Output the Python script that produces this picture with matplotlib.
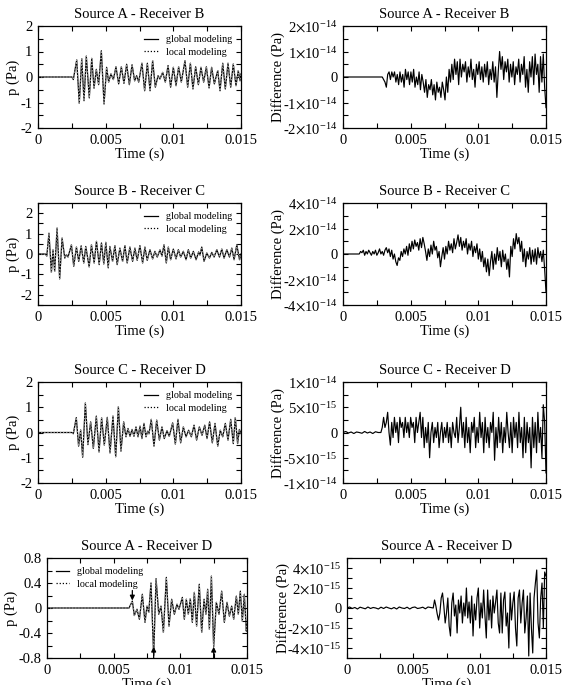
import numpy as np
import matplotlib
matplotlib.use("Agg")
import matplotlib.pyplot as plt

plt.rcParams['font.family'] = ['Liberation Serif', 'DejaVu Serif']
plt.rcParams['mathtext.fontset'] = 'stix'
plt.rcParams['axes.unicode_minus'] = False

# ---------------- data (time in ms, pressure in Pa) ----------------
titles = ["Source A - Receiver B", "Source B - Receiver C",
          "Source C - Receiver D", "Source A - Receiver D"]

# Source A - Receiver B : pressure
t_ab = [0, 2.51, 2.61, 2.86, 3.05, 3.23, 3.40, 3.57, 3.79, 3.97, 4.14, 4.31, 4.48,
        4.68, 4.88, 5.07, 5.22, 5.39, 5.57, 5.76, 5.96, 6.16, 6.35, 6.55, 6.75,
        6.95, 7.14, 7.29, 7.44, 7.68, 7.88, 8.08, 8.28, 8.47, 8.67, 8.87, 9.01,
        9.21, 9.41, 9.61, 9.80, 10.00, 10.20, 10.39, 10.59, 10.86, 11.06, 11.26,
        11.45, 11.65, 11.85, 12.04, 12.24, 12.44, 12.64, 12.83, 13.03, 13.28,
        13.45, 13.65, 13.84, 14.04, 14.24, 14.43, 14.63, 14.80, 14.93, 15.0]
p_ab = [0, 0, -0.10, 0.67, -1.03, 0.72, -0.93, 0.82, -0.82, 0.73, -0.44, 0.30, -0.30,
        1.03, -1.06, 0.38, -0.20, 0.12, -0.10, 0.40, -0.27, 0.40, -0.25, 0.50, -0.30,
        0.48, -0.15, 0.05, -0.20, 0.54, -0.54, 0.54, -0.54, 0.64, -0.40, 0.05, -0.08,
        0.18, -0.20, 0.45, -0.40, 0.38, -0.34, 0.40, -0.20, 0.64, -0.40, 0.54,
        -0.47, 0.40, -0.30, 0.38, -0.20, 0.40, -0.43, 0.38, -0.27, 0.25,
        -0.54, 0.54, -0.47, 0.54, -0.40, 0.51, -0.34, 0.25, -0.15, 0.12]

# Source B - Receiver C : pressure
t_bc = [0, 0.55, 0.65, 0.81, 0.99, 1.11, 1.23, 1.41, 1.60, 1.78, 1.98, 2.10, 2.22,
        2.47, 2.64, 2.84, 3.01, 3.19, 3.38, 3.53, 3.78, 3.95, 4.15, 4.32, 4.52,
        4.69, 4.86, 5.01, 5.19, 5.31, 5.51, 5.68, 5.85, 6.05, 6.25, 6.42, 6.59,
        6.79, 6.99, 7.16, 7.33, 7.53, 7.73, 7.90, 8.07, 8.27, 8.47, 8.64, 8.81,
        9.01, 9.16, 9.31, 9.48, 9.63, 9.80, 10.00, 10.20, 10.37, 10.54, 10.74,
        10.94, 11.11, 11.28, 11.48, 11.68, 11.87, 11.97, 12.10, 12.27, 12.47,
        12.67, 12.84, 13.01, 13.21, 13.41, 13.58, 13.75, 13.95, 14.15, 14.32,
        14.49, 14.69, 14.89, 15.0]
p_bc = [0, 0, -0.10, 1.02, -0.90, 0.20, -0.85, 1.27, -1.22, 0.78, -0.20, -0.03, -0.15,
        0.45, -0.60, 0.34, -0.36, 0.40, -0.44, 0.37, -0.63, 0.45, -0.44, 0.62, -0.52,
        0.54, -0.49, 0.57, -0.68, 0.37, -0.36, 0.41, -0.52, 0.29, -0.36, 0.41, -0.44,
        0.34, -0.36, 0.29, -0.31, 0.41, -0.44, 0.34, -0.31, 0.21, -0.24, 0.13, -0.15,
        0.20, -0.10, 0.45, -0.44, 0.34, -0.28, 0.24, -0.24, 0.21, -0.15, 0.13,
        -0.28, 0.21, -0.20, 0.13, -0.28, 0.10, -0.05, 0.34, -0.36, 0.05,
        -0.20, 0.08, -0.15, 0.21, -0.15, 0.24, -0.20, 0.21, -0.15, 0.29,
        -0.28, 0.45, -0.28, 0.0]

# Source C - Receiver D : pressure
t_cd = [0, 2.51, 2.61, 2.83, 3.00, 3.15, 3.30, 3.50, 3.69, 3.89, 4.09, 4.31, 4.51,
        4.70, 4.90, 5.12, 5.32, 5.54, 5.74, 5.94, 6.13, 6.33, 6.50, 6.65, 6.80,
        6.95, 7.09, 7.24, 7.39, 7.54, 7.68, 7.83, 7.98, 8.10, 8.20, 8.37, 8.57,
        8.77, 8.97, 9.16, 9.33, 9.53, 9.70, 9.95, 10.15, 10.34, 10.54, 10.74,
        10.94, 11.13, 11.33, 11.53, 11.72, 11.92, 12.12, 12.32, 12.49, 12.68,
        12.88, 13.08, 13.28, 13.47, 13.65, 13.84, 14.04, 14.24, 14.43, 14.58,
        14.75, 14.88, 15.0]
p_cd = [0, 0, -0.05, 0.59, -0.54, 0.10, -0.98, 1.17, -0.48, 0.42, -0.63, 0.65, -0.77,
        0.58, -0.50, 0.60, -0.81, 0.65, -0.96, 1.02, -0.74, 0.42, -0.17, 0.16, -0.15,
        0.12, -0.15, 0.22, -0.17, 0.25, -0.24, 0.36, -0.17, 0.05, -0.05, 0.52, -0.54,
        0.49, -0.30, 0.22, -0.24, 0.07, -0.15, 0.38, -0.46, 0.52, -0.41, 0.22,
        -0.17, 0.09, -0.17, 0.29, -0.30, 0.22, -0.11, 0.29, -0.24, 0.42,
        -0.41, 0.36, -0.54, 0.09, -0.17, 0.36, -0.30, 0.52, -0.44, 0.59,
        -0.44, 0.12, -0.04]

# Source A - Receiver D : pressure
t_ad = [0, 6.15, 6.40, 6.55, 6.75, 6.93, 7.15, 7.35, 7.50, 7.63, 7.80, 8.00, 8.18,
        8.38, 8.55, 8.73, 8.95, 9.15, 9.35, 9.55, 9.75, 9.90, 10.15, 10.30, 10.45,
        10.60, 10.75, 10.90, 11.05, 11.22, 11.42, 11.60, 11.78, 11.92, 12.05,
        12.18, 12.33, 12.50, 12.70, 12.90, 13.10, 13.30, 13.50, 13.68, 13.85,
        14.00, 14.20, 14.35, 14.50, 14.65, 14.80, 14.95, 15.0]
p_ad = [0, 0, 0.11, -0.12, -0.02, -0.18, 0.22, -0.23, 0.03, -0.07, 0.40, -0.76, 0.47,
        -0.10, 0.03, -0.39, 0.49, -0.29, 0.14, -0.10, 0.06, -0.02, 0.17, -0.18, 0.14,
        -0.10, 0.15, -0.23, 0.25, -0.29, 0.38, -0.39, 0.14, -0.10, 0.30,
        -0.34, 0.51, -0.62, 0.09, -0.10, 0.27, -0.23, 0.09, -0.13, 0.03,
        -0.18, 0.19, -0.10, 0.27, -0.21, 0.22, -0.37, -0.25]

# arrows in the last panel: time (ms), tip value, tail value
arrow_t = [6.40, 8.00, 12.50]
arrow_tip = [0.12, -0.62, -0.62]
arrow_tail = [0.28, -0.80, -0.80]

# Differences (units of 1e-15 Pa); onset time (ms), pre-onset & post-onset samples
d_ab_onset = 2.9
d_ab_pre = [0, 0]
d_ab = [0, -1, -2, -4, 1, 2, -1, 2, 0, 2,
        -2, 1, -3, 2, -2, 1, -4, 3, -1, 2,
        -3, 2, -2, 3, -4, 0, -3, 2, -5, 1,
        -2, -6, -1, -8, -3, -5, -1, -7, -3, -9,
        -2, -6, -4, -8, -2, -5, -9, 0, -6, 3,
        -2, 5, -1, 7, 1, 6, -3, 7, 0, 5,
        2, 6, -2, 4, 0, 7, -1, 3, -4, 5,
        1, 6, -1, 4, -2, 5, 0, 6, -3, 3,
        -1, 6, -2, 4, -8, 2, 10, 3, 8, -1,
        6, 2, 7, -2, 5, 0, 6, -3, 4, 1,
        7, -2, 5, 1, 8, -4, 3, -6, 6, 0,
        8, -3, 9, 1, 5, -6, 8, -2, 9, -4,
        -12]

d_bc_onset = 1.2
d_bc_pre = [0, 0]
d_bc = [0, 2, 1, 3, -1, 2, 0, 3, 1, -1,
        2, 0, 3, -1, 1, 4, 0, 2, -1, 3,
        5, 1, 4, -2, 3, -4, 0, -6, -9, -3,
        -5, 2, -2, 4, 0, 6, -1, 8, 2, 10,
        4, 11, 6, 9, 3, 12, 5, 13, 8, 2,
        -5, 4, -2, 7, 0, 10, 3, 6, -3, 2,
        -10, -2, 5, -4, 6, 0, 10, 3, 8, 1,
        12, 4, 9, 15, 6, 13, 3, 10, 5, 12,
        0, 8, 3, 10, -2, 6, 1, 8, -4, 4,
        -6, 2, -10, -3, -14, -4, -17, -6, 2, -12,
        0, -8, 5, -5, 2, -10, 3, -6, 0, -12,
        -4, -18, 6, -2, 12, 4, 16, 8, 13, 2,
        10, -6, 4, -10, 2, -4, 5, -8, 3, -6,
        4, -8, 5, -3, 2, -6, 3, -12, -30]

d_cd_onset = 2.8
d_cd_pre = [0, 0.2, -0.1, 0.1, -0.2, 0.1, 0, -0.15, 0.2, -0.1, 0.1, -0.2, 0.15, 0]
d_cd = [0, 1, 3, 1, 2, 4, 0, -2.5, 2, -1,
        3, 0, 2, -2, 3, 1, 2, -1, 3, 0,
        2, -1, 3, 1, 2, -2, 3, 0, 2, 4,
        -1, 3, -3, 1, -2, 2, -5, 0, 2, -2,
        1, -1, 2, -3, 0, 2, -2, 1, -1, 2,
        -2, 1, -3, 2, 0, -1, 3, -2, 1, 5,
        -1, 2, -3, 3, -2, 1, -4, 2, 0, 3,
        -3, 1, -2, 4, -1, 2, -4, 3, -2, 1,
        -3, 2, 0, 4, -5.5, 1, -3, 3, -2, 2,
        -4, 1, -2, 4, 0, -3, 2, -4, 3, -1,
        2, -3, 4, -2, 1, -5, 3, -4, 2, -2,
        1, -7, 3, -3, 2, -4, 4, -2, 1, -5,
        5.5, 2, -8]

d_ad_onset = 6.5
d_ad_pre = [0, 0.1, -0.05, 0.05, -0.1, 0.08, 0, -0.08, 0.1, -0.05, 0.05, 0, -0.1,
            0.08, -0.05, 0.1, 0, -0.08, 0.05, -0.1, 0.1, 0, -0.05, 0.08, -0.1,
            0.05, 0.1, -0.05, 0, 0.08, -0.08, 0.1, 0.05]
d_ad = [0, 0.8, 0.2, -0.6, -1.2, -0.5, 1.0, 1.5, 0.2, -1.5,
        -0.5, 1.0, -1.8, -2.8, 0.5, 1.5, -0.8, 0.3, -2.5, 0.8,
        -0.5, 1.2, -1.5, 0.5, -0.8, 2.0, -1.0, 0.6, -1.5, 1.2,
        -2.8, 0.4, -1.2, 1.0, 2.0, -2.0, 0.5, -1.0, 1.8, -0.8,
        -3.0, 1.8, -1.2, 0.8, -2.0, 1.2, -0.5, 0.6, 1.8, -1.5,
        -2.5, 1.5, -2.5, 0.8, 1.6, -1.8, -0.5, -4.0, 1.5, -1.2,
        0.5, 1.6, -2.0, -3.8, 1.0, 1.8, -1.5, 0.5, 1.8, -2.5,
        -1.0, 1.2, -4.8, 1.5, -2.0, -4.5, 1.0, 2.5, 3.8, -1.5,
        -3.0, 1.0, 2.5, -2.0, 3.6, 3.2]

# tick labels
xtick_vals = [0, 0.005, 0.01, 0.015]
xtick_labels = ["0", "0.005", "0.01", "0.015"]
left_yticks = [[-2, -1, 0, 1, 2], [-2, -1, 0, 1, 2], [-2, -1, 0, 1, 2],
               [-0.8, -0.4, 0, 0.4, 0.8]]
left_ylabels = [["-2", "-1", "0", "1", "2"]] * 3 + [["-0.8", "-0.4", "0", "0.4", "0.8"]]
left_ylim = [(-2, 2), (-2.5, 2.5), (-2, 2), (-0.8, 0.8)]
left_yminor = [0.5, 0.5, 0.5, 0.2]

right_yticks = [[-2e-14, -1e-14, 0, 1e-14, 2e-14], [-4e-14, -2e-14, 0, 2e-14, 4e-14],
                [-1e-14, -5e-15, 0, 5e-15, 1e-14], [-4e-15, -2e-15, 0, 2e-15, 4e-15]]
right_ylabels = [
    [r"-2$\times$10$^{\mathregular{-14}}$", r"-1$\times$10$^{\mathregular{-14}}$", "0",
     r"1$\times$10$^{\mathregular{-14}}$", r"2$\times$10$^{\mathregular{-14}}$"],
    [r"-4$\times$10$^{\mathregular{-14}}$", r"-2$\times$10$^{\mathregular{-14}}$", "0",
     r"2$\times$10$^{\mathregular{-14}}$", r"4$\times$10$^{\mathregular{-14}}$"],
    [r"-1$\times$10$^{\mathregular{-14}}$", r"-5$\times$10$^{\mathregular{-15}}$", "0",
     r"5$\times$10$^{\mathregular{-15}}$", r"1$\times$10$^{\mathregular{-14}}$"],
    [r"-4$\times$10$^{\mathregular{-15}}$", r"-2$\times$10$^{\mathregular{-15}}$", "0",
     r"2$\times$10$^{\mathregular{-15}}$", r"4$\times$10$^{\mathregular{-15}}$"],
]
right_ylim = [(-2e-14, 2e-14), (-4e-14, 4e-14), (-1e-14, 1e-14), (-5e-15, 5e-15)]
right_yminor = [5e-15, 1e-14, 2.5e-15, 1e-15]

# ---------------- figure ----------------
W, H = 567, 685
fig = plt.figure(figsize=(W / 100, H / 100), dpi=100)

rows_px = [(26, 128), (203, 305), (382, 483), (558, 658)]
left_x = [(38, 241)] * 3 + [(47, 247)]
right_x = [(343, 546)] * 3 + [(347, 546)]

def mk_ax(xr, yr):
    return fig.add_axes([xr[0] / W, 1 - yr[1] / H, (xr[1] - xr[0]) / W, (yr[1] - yr[0]) / H])

FS = 10.5

def style(ax, yticks, ylabels, ylim, yminor):
    ax.set_xlim(0, 0.015)
    ax.set_ylim(*ylim)
    ax.set_xticks(xtick_vals)
    ax.set_xticklabels(xtick_labels)
    ax.set_xticks([0.0025, 0.0075, 0.0125], minor=True)
    ax.set_yticks(yticks)
    ax.set_yticklabels(ylabels)
    mn = np.arange(ylim[0], ylim[1] + yminor * 0.01, yminor)
    ax.set_yticks([v for v in mn if min(abs(v - y) for y in yticks) > yminor * 0.01], minor=True)
    ax.tick_params(which='both', direction='in', top=True, right=True, length=3.5,
                   width=0.8, labelsize=FS, pad=4)
    for s in ax.spines.values():
        s.set_linewidth(0.9)
    ax.set_xlabel("Time (s)", fontsize=FS, labelpad=1)

left_data = [(t_ab, p_ab), (t_bc, p_bc), (t_cd, p_cd), (t_ad, p_ad)]
diff_data = [(d_ab_onset, d_ab_pre, d_ab), (d_bc_onset, d_bc_pre, d_bc),
             (d_cd_onset, d_cd_pre, d_cd), (d_ad_onset, d_ad_pre, d_ad)]

for i in range(4):
    # left: pressure
    ax = mk_ax(left_x[i], rows_px[i])
    t = np.array(left_data[i][0]) * 1e-3
    p = np.array(left_data[i][1])
    ax.plot(t, p, color='black', lw=0.9, label='global modeling')
    ax.plot(t, p, color='#9a9a9a', lw=0.9, ls=(0, (1, 1.5)), label='local modeling')
    style(ax, left_yticks[i], left_ylabels[i], left_ylim[i], left_yminor[i])
    ax.set_ylabel("p (Pa)", fontsize=FS, labelpad=0.5)
    ax.set_title(titles[i], fontsize=FS, pad=6)
    loc = 'upper right' if i < 3 else 'upper left'
    leg = ax.legend(loc=loc, frameon=False, fontsize=7.3, handlelength=1.3,
                    handletextpad=0.8, labelspacing=0.35, borderaxespad=0.5)
    leg.legend_handles[1].set_color('black')
    if i == 3:
        for at, tip, tail in zip(arrow_t, arrow_tip, arrow_tail):
            ax.annotate("", xy=(at * 1e-3, tip), xytext=(at * 1e-3, tail),
                        arrowprops=dict(arrowstyle='-|>', color='black', lw=0.9,
                                        mutation_scale=7, shrinkA=0, shrinkB=0))

    # right: difference
    ax2 = mk_ax(right_x[i], rows_px[i])
    onset, pre, post = diff_data[i]
    tp = np.linspace(0, onset * 1e-3, len(pre), endpoint=False)
    tq = np.linspace(onset * 1e-3, 0.015, len(post))
    td = np.concatenate([tp, tq])
    dv = np.concatenate([np.array(pre), np.array(post)]) * 1e-15
    ax2.plot(td, dv, color='black', lw=0.85)
    style(ax2, right_yticks[i], right_ylabels[i], right_ylim[i], right_yminor[i])
    ax2.set_ylabel("Difference (Pa)", fontsize=FS, labelpad=-1.5)
    ax2.set_title(titles[i], fontsize=FS, pad=6)

fig.savefig("out.png", dpi=100)
